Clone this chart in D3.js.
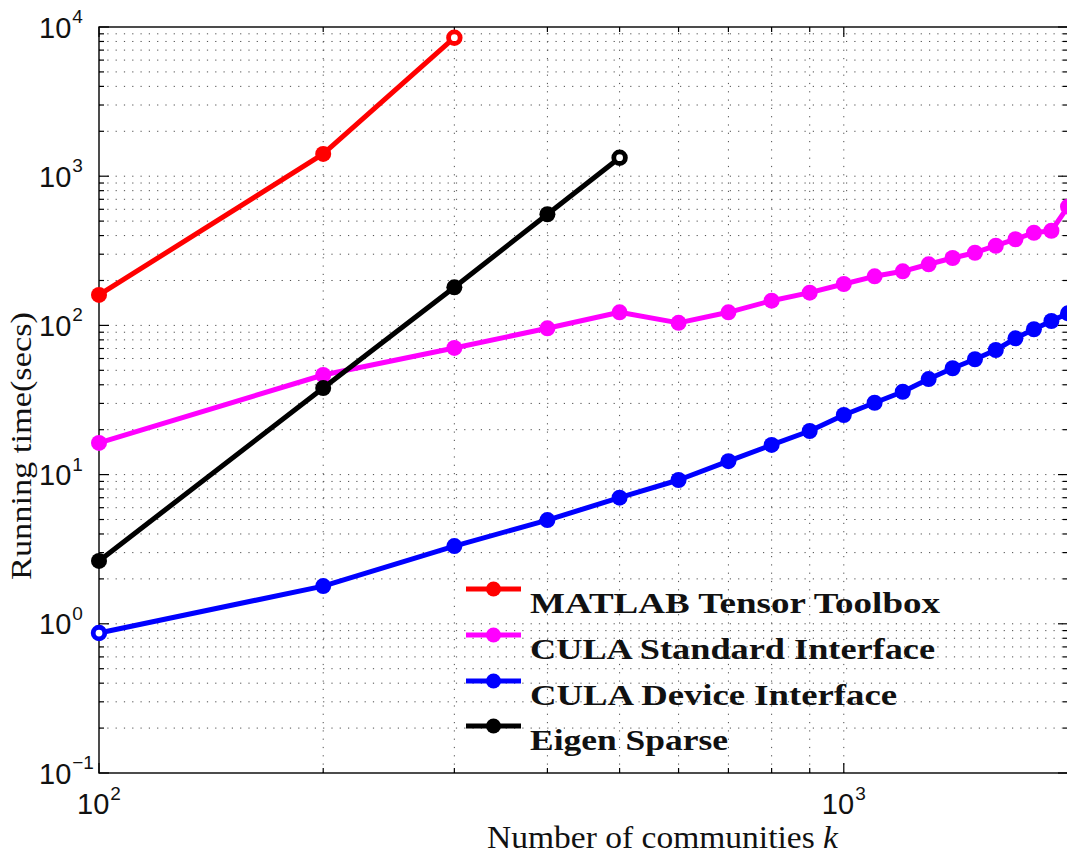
<!DOCTYPE html>
<html>
<head>
<meta charset="utf-8">
<script src="https://cdn.jsdelivr.net/npm/d3@7"></script>
<style>
  html, body { margin: 0; padding: 0; background: #fff; }
  svg { display: block; }
</style>
</head>
<body>
<svg id="chart" width="1067" height="856"></svg>
<script>
// ---------------- data ----------------
const kValues = [100, 200, 300, 400, 500, 600, 700, 800, 900, 1000,
                 1100, 1200, 1300, 1400, 1500, 1600, 1700, 1800, 1900, 2000];
const matlabTensor = [160, 1410, 8480];                       // k = 100..300
const culaStandard = [16.3, 46.5, 70.6, 95.6, 122.4, 104, 122.4, 146.4, 165.7, 189.5,
                      213.3, 230.5, 256.8, 283, 307, 342, 378, 418, 431, 625];
const culaDevice   = [0.867, 1.79, 3.32, 4.96, 7.0, 9.2, 12.3, 15.8, 19.6, 25.1,
                      30.3, 35.9, 43.7, 51.6, 59.3, 68.4, 81.9, 94.2, 107, 120.5];
const eigenSparse  = [2.64, 38, 180, 556, 1330];              // k = 100..500
const seriesNames  = ["MATLAB Tensor Toolbox", "CULA Standard Interface",
                      "CULA Device Interface", "Eigen Sparse"];
const xTickMajor = [100, 1000];
const xTickMinor = [200, 300, 400, 500, 600, 700, 800, 900, 2000];
const yTickMajor = [0.1, 1, 10, 100, 1000, 10000];
const xTickExp = ["2", "3"];
const yTickExp = ["\u22121", "0", "1", "2", "3", "4"];
const xLabel = "Number of communities ";
const xLabelVar = "k";
const yLabel = "Running time(secs)";

// ---------------- layout ----------------
const L = 99, T = 27, R = 1068, B = 773;
const svg = d3.select("#chart");
const x = d3.scaleLog().domain([100, 2000]).range([L, R]);
const y = d3.scaleLog().domain([0.1, 10000]).range([B, T]);

// minor y ticks
const yTickMinor = [];
for (let e = -1; e < 4; e++) for (let m = 2; m <= 9; m++) yTickMinor.push(m * Math.pow(10, e));

// ---------------- grid ----------------
const grid = svg.append("g").attr("stroke", "#222").attr("stroke-width", 1)
  .attr("stroke-dasharray", "1.2,7.1").attr("opacity", 0.8);
[...xTickMajor, ...xTickMinor].forEach(v => {
  if (v === 100) return;
  grid.append("line").attr("x1", x(v)).attr("x2", x(v)).attr("y1", B).attr("y2", T);
});
[...yTickMajor, ...yTickMinor].forEach(v => {
  if (v === 0.1 || v === 10000) return;
  grid.append("line").attr("x1", L).attr("x2", R).attr("y1", y(v)).attr("y2", y(v));
});

// ---------------- ticks (inward, mirrored) ----------------
const tk = svg.append("g").attr("stroke", "#000").attr("stroke-width", 1.2);
xTickMajor.forEach(v => {
  tk.append("line").attr("x1", x(v)).attr("x2", x(v)).attr("y1", B).attr("y2", B - 10);
  tk.append("line").attr("x1", x(v)).attr("x2", x(v)).attr("y1", T).attr("y2", T + 10);
});
xTickMinor.forEach(v => {
  tk.append("line").attr("x1", x(v)).attr("x2", x(v)).attr("y1", B).attr("y2", B - 5);
  tk.append("line").attr("x1", x(v)).attr("x2", x(v)).attr("y1", T).attr("y2", T + 5);
});
yTickMajor.forEach(v => {
  tk.append("line").attr("x1", L).attr("x2", L + 10).attr("y1", y(v)).attr("y2", y(v));
  tk.append("line").attr("x1", R).attr("x2", R - 10).attr("y1", y(v)).attr("y2", y(v));
});
yTickMinor.forEach(v => {
  tk.append("line").attr("x1", L).attr("x2", L + 5).attr("y1", y(v)).attr("y2", y(v));
  tk.append("line").attr("x1", R).attr("x2", R - 5).attr("y1", y(v)).attr("y2", y(v));
});

// frame
svg.append("rect").attr("x", L).attr("y", T).attr("width", R - L).attr("height", B - T)
  .attr("fill", "none").attr("stroke", "#000").attr("stroke-width", 1.4);

// ---------------- tick labels ----------------
const tickFont = "'Liberation Sans', Arial, Helvetica, sans-serif";
yTickMajor.forEach((v, i) => {
  const t = svg.append("text").attr("x", 39).attr("y", y(v) + 10.5)
    .attr("font-family", tickFont).attr("font-size", 29).attr("fill", "#111");
  t.append("tspan").text("10");
  t.append("tspan").attr("font-size", 19).attr("dy", -14.5).attr("dx", 1).text(yTickExp[i]);
});
xTickMajor.forEach((v, i) => {
  const t = svg.append("text").attr("x", x(v)).attr("y", 814).attr("text-anchor", "middle")
    .attr("font-family", tickFont).attr("font-size", 29).attr("fill", "#111");
  t.append("tspan").text("10");
  t.append("tspan").attr("font-size", 19).attr("dy", -14.5).attr("dx", 1).text(xTickExp[i]);
});

// ---------------- axis labels ----------------
const serif = "'Liberation Serif', 'Times New Roman', serif";
const xl = svg.append("text").attr("x", 487).attr("y", 848)
  .attr("font-family", serif).attr("font-size", 31).attr("fill", "#111")
  .attr("textLength", 351).attr("lengthAdjust", "spacingAndGlyphs");
xl.append("tspan").text(xLabel);
xl.append("tspan").attr("font-style", "italic").text(xLabelVar);

svg.append("text").attr("transform", "translate(31,446) rotate(-90)")
  .attr("text-anchor", "middle")
  .attr("font-family", serif).attr("font-size", 30).attr("fill", "#111")
  .attr("textLength", 268).attr("lengthAdjust", "spacingAndGlyphs")
  .text(yLabel);

// ---------------- series ----------------
const series = [
  { name: seriesNames[0], color: "#ff0000", values: matlabTensor, hollow: [2] },
  { name: seriesNames[1], color: "#ff00ff", values: culaStandard, hollow: [] },
  { name: seriesNames[2], color: "#0000ff", values: culaDevice,   hollow: [0] },
  { name: seriesNames[3], color: "#000000", values: eigenSparse,  hollow: [4] }
];
const line = d3.line().x(d => x(d[0])).y(d => y(d[1]));
const plotG = svg.append("g");
series.forEach(s => {
  const pts = s.values.map((v, i) => [kValues[i], v]);
  plotG.append("path").datum(pts).attr("d", line).attr("fill", "none")
    .attr("stroke", s.color).attr("stroke-width", 5).attr("stroke-linejoin", "round");
  pts.forEach((p, i) => {
    if (s.hollow.includes(i)) {
      plotG.append("circle").attr("cx", x(p[0])).attr("cy", y(p[1])).attr("r", 5.8)
        .attr("fill", "#fff").attr("stroke", s.color).attr("stroke-width", 4.8);
    } else {
      plotG.append("circle").attr("cx", x(p[0])).attr("cy", y(p[1])).attr("r", 8)
        .attr("fill", s.color);
    }
  });
});

// ---------------- legend ----------------
const legRows = [589, 635, 681, 726];
const legWidths = [410, 405, 367, 198];
series.forEach((s, i) => {
  const g = svg.append("g");
  g.append("line").attr("x1", 466).attr("x2", 521).attr("y1", legRows[i]).attr("y2", legRows[i])
    .attr("stroke", s.color).attr("stroke-width", 5);
  g.append("circle").attr("cx", 493.5).attr("cy", legRows[i]).attr("r", 7.5).attr("fill", s.color);
  g.append("text").attr("x", 530).attr("y", legRows[i] + 24)
    .attr("font-family", serif).attr("font-weight", "bold").attr("font-size", 30)
    .attr("fill", "#111")
    .attr("textLength", legWidths[i]).attr("lengthAdjust", "spacingAndGlyphs")
    .text(s.name);
});
</script>
</body>
</html>
